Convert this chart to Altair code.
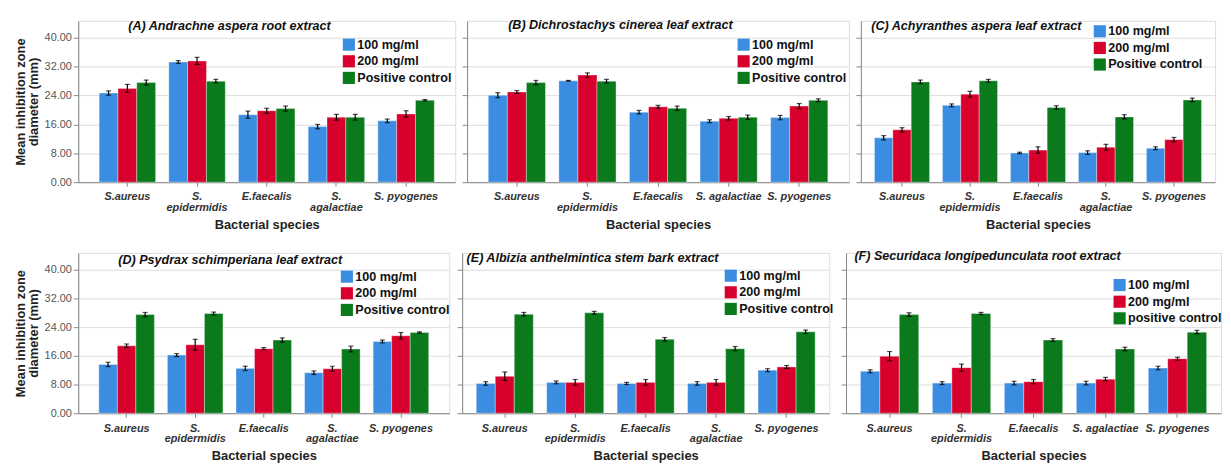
import altair as alt
import pandas as pd

categories = ["S.aureus", "S. epidermidis", "E.faecalis", "S. agalactiae", "S. pyogenes"]
series = ["100 mg/ml", "200 mg/ml", "Positive control"]
series_f = ["100 mg/ml", "200 mg/ml", "positive control"]
colors = ["#3a8de0", "#d8002c", "#0a7a1c"]

titles = [
    "(A) Andrachne aspera root extract",
    "(B) Dichrostachys cinerea  leaf extract",
    "(C) Achyranthes aspera leaf extract",
    "(D) Psydrax schimperiana leaf extract",
    "(E) Albizia anthelmintica  stem bark extract",
    "(F) Securidaca longipedunculata  root extract",
]

# Panel A
a_100 = [24.7, 33.3, 18.7, 15.4, 17.0]
a_200 = [26.0, 33.6, 19.8, 18.0, 18.9]
a_pc = [27.6, 28.0, 20.4, 18.0, 22.7]
a_100_err = [0.6, 0.4, 1.0, 0.6, 0.5]
a_200_err = [1.1, 1.0, 0.7, 0.8, 0.9]
a_pc_err = [0.7, 0.5, 0.7, 0.8, 0.2]
# Panel B
b_100 = [24.1, 28.1, 19.4, 16.9, 17.9]
b_200 = [25.0, 29.7, 20.9, 17.7, 21.1]
b_pc = [27.6, 28.0, 20.5, 18.0, 22.7]
b_100_err = [0.7, 0.1, 0.5, 0.4, 0.6]
b_200_err = [0.4, 0.6, 0.4, 0.5, 0.7]
b_pc_err = [0.6, 0.5, 0.6, 0.6, 0.4]
# Panel C
c_100 = [12.3, 21.3, 8.1, 8.2, 9.4]
c_200 = [14.5, 24.4, 8.9, 9.7, 11.8]
c_pc = [27.8, 28.1, 20.7, 18.1, 22.8]
c_100_err = [0.6, 0.4, 0.2, 0.5, 0.4]
c_200_err = [0.6, 0.8, 0.9, 0.8, 0.6]
c_pc_err = [0.5, 0.4, 0.5, 0.6, 0.5]
# Panel D
d_100 = [13.6, 16.2, 12.5, 11.3, 20.0]
d_200 = [18.8, 19.1, 18.0, 12.4, 21.6]
d_pc = [27.5, 27.8, 20.4, 17.9, 22.5]
d_100_err = [0.6, 0.4, 0.6, 0.5, 0.4]
d_200_err = [0.5, 1.5, 0.3, 0.7, 0.9]
d_pc_err = [0.6, 0.4, 0.6, 0.8, 0.2]
# Panel E
e_100 = [8.3, 8.6, 8.3, 8.3, 12.0]
e_200 = [10.3, 8.6, 8.6, 8.6, 12.9]
e_pc = [27.6, 28.0, 20.6, 18.0, 22.7]
e_100_err = [0.5, 0.4, 0.3, 0.5, 0.4]
e_200_err = [1.2, 0.8, 0.8, 0.8, 0.4]
e_pc_err = [0.5, 0.4, 0.5, 0.6, 0.5]
# Panel F
f_100 = [11.7, 8.4, 8.4, 8.4, 12.6]
f_200 = [15.9, 12.7, 8.8, 9.5, 15.2]
f_pc = [27.5, 27.8, 20.4, 17.9, 22.6]
f_100_err = [0.4, 0.4, 0.5, 0.5, 0.5]
f_200_err = [1.3, 1.0, 0.6, 0.5, 0.4]
f_pc_err = [0.5, 0.3, 0.4, 0.5, 0.5]

y_ticks = [0, 8, 16, 24, 32, 40]
Y_MAX = 44.7
FONT = "Liberation Sans"


def make_df(names, vals, errs):
    rows = []
    for s, v, e in zip(names, vals, errs):
        for c, vv, ee in zip(categories, v, e):
            rows.append({"species": c, "series": s, "value": vv, "lo": vv - ee, "hi": vv + ee})
    return pd.DataFrame(rows)


def panel(names, vals, errs, title, width, height, show_y, wrap, leg_xy, title_xy, pad_outer):
    df = make_df(names, vals, errs)
    if wrap:
        lexpr = "indexof(['S. epidermidis','S. agalactiae'], datum.label) >= 0 ? split(datum.label, ' ') : datum.label"
    else:
        lexpr = "datum.label == 'S. epidermidis' ? split(datum.label, ' ') : datum.label"
    x = alt.X(
        "species:N",
        sort=categories,
        scale=alt.Scale(paddingInner=0.19, paddingOuter=pad_outer),
        axis=alt.Axis(
            title="Bacterial species",
            labelAngle=0,
            labelExpr=lexpr,
            labelFontSize=11,
            labelFontStyle="italic",
            labelFontWeight="bold",
            labelColor="#333333",
            labelLineHeight=11,
            labelPadding=5,
            tickSize=4,
            titleFontSize=13,
            titleFontWeight="bold",
            titleColor="#222222",
            titlePadding=6,
        ),
    )
    xo = alt.XOffset("series:N", sort=names, scale=alt.Scale(paddingInner=0))
    if show_y:
        yaxis = alt.Axis(
            title=["Mean inhibition zone", "diameter (mm)"],
            values=y_ticks,
            tickCount=len(y_ticks),
            format=".2f",
            labelFontSize=11,
            labelColor="#555555",
            tickSize=5,
            titleFontSize=13,
            titleFontWeight="bold",
            titleColor="#222222",
            titleLineHeight=13,
            titlePadding=4,
        )
    else:
        yaxis = alt.Axis(title=None, values=y_ticks, tickCount=len(y_ticks), labels=False, tickSize=5)
    y = alt.Y("value:Q", scale=alt.Scale(domain=[0, Y_MAX], nice=False), axis=yaxis)
    base = alt.Chart(df)
    bars = base.mark_bar(stroke="white", strokeWidth=0.6, strokeOpacity=0.6).encode(
        x=x,
        xOffset=xo,
        y=y,
        color=alt.Color(
            "series:N",
            sort=names,
            scale=alt.Scale(domain=names, range=colors),
            legend=alt.Legend(
                orient="none",
                legendX=leg_xy[0],
                legendY=leg_xy[1],
                title=None,
                symbolType="square",
                symbolSize=150,
                symbolStrokeWidth=0,
                labelFont=FONT,
                labelFontSize=12.7,
                labelFontWeight="bold",
                labelColor="#111111",
                labelOffset=2,
                rowPadding=2.8,
                padding=0,
            ),
        ),
    )
    rule = base.mark_rule(color="black", strokeWidth=1.2).encode(x=x, xOffset=xo, y="lo:Q", y2="hi:Q")
    cap_lo = base.mark_tick(color="black", size=5, thickness=1.2).encode(x=x, xOffset=xo, y="lo:Q")
    cap_hi = base.mark_tick(color="black", size=5, thickness=1.2).encode(x=x, xOffset=xo, y="hi:Q")
    ttl = alt.Chart(pd.DataFrame({"t": [title]})).mark_text(
        align="left", baseline="middle", font=FONT, fontSize=12.7,
        fontStyle="italic", fontWeight="bold", color="#111111"
    ).encode(x=alt.value(title_xy[0]), y=alt.value(title_xy[1]), text="t:N")
    return alt.layer(bars, rule, cap_lo, cap_hi, ttl).properties(width=width, height=height)


pA = panel(series, [a_100, a_200, a_pc], [a_100_err, a_200_err, a_pc_err], titles[0], 381, 163, True, True, (267, 17.5), (50.5, 5), 0.3)
pB = panel(series, [b_100, b_200, b_pc], [b_100_err, b_200_err, b_pc_err], titles[1], 386, 163, False, False, (273, 17.5), (41.5, 4), 0.3)
pC = panel(series, [c_100, c_200, c_pc], [c_100_err, c_200_err, c_pc_err], titles[2], 358, 163, False, True, (235, 4), (10.5, 5), 0.2)
pD = panel(series, [d_100, d_200, d_pc], [d_100_err, d_200_err, d_pc_err], titles[3], 375, 162, True, True, (265, 17.5), (40.5, 7), 0.3)
pE = panel(series, [e_100, e_200, e_pc], [e_100_err, e_200_err, e_pc_err], titles[4], 371, 162, False, True, (265, 16.5), (4.5, 5), 0.2)
pF = panel(series_f, [f_100, f_200, f_pc], [f_100_err, f_200_err, f_pc_err], titles[5], 379, 162, False, False, (270, 26), (8.5, 3), 0.2)

res = dict(x="independent", y="independent", color="independent", xOffset="independent")
row1 = alt.hconcat(pA, pB, pC, spacing=5).resolve_scale(**res)
row2 = alt.hconcat(pD, pE, pF, spacing=5).resolve_scale(**res)

chart = (
    alt.vconcat(row1, row2, spacing=16.5)
    .resolve_scale(**res)
    .properties(padding={"left": 5, "top": 7.6, "right": 0, "bottom": 0})
    .configure_view(stroke=None)
    .configure_axis(
        grid=False,
        domainColor="#8c8c8c",
        domainWidth=1.5,
        tickColor="#8c8c8c",
        tickWidth=1.2,
        labelFont=FONT,
        titleFont=FONT,
    )
    .configure(background="white")
)

chart.save("out.html", embed_options={"renderer": "svg", "actions": False})
